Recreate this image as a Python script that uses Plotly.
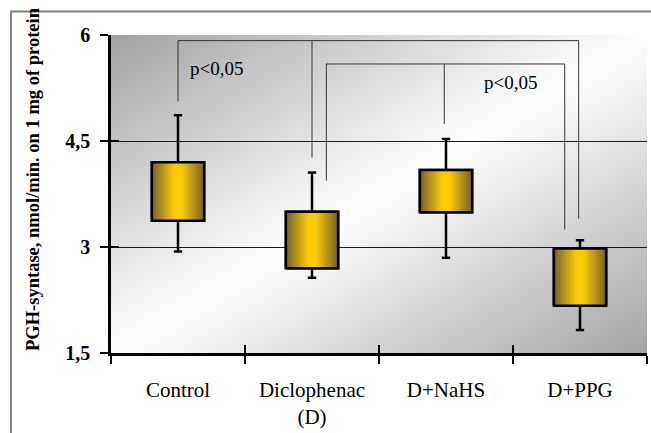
import base64
import plotly.graph_objects as go

# ---- data ----
categories = ["Control", "Diclophenac<br>(D)", "D+NaHS", "D+PPG"]
q1 = [3.37, 2.70, 3.49, 2.17]
q3 = [4.20, 3.50, 4.09, 2.98]
lower = [2.935, 2.565, 2.847, 1.824]
upper = [4.865, 4.056, 4.528, 3.097]

y_ticks = [1.5, 3, 4.5, 6]
y_ticktext = ["1,5", "3", "4,5", "6"]

# significance brackets: top level, leg positions (category index) and leg bottoms
bracket_tops = [5.92, 5.59]
bracket_leg_x = [[0.0, 1.0, 2.99], [1.107, 1.987, 2.886]]
bracket_leg_bottom = [[5.06, 4.27, 3.40], [3.94, 4.74, 3.246]]
sig_text = ["p<0,05", "p<0,05"]
sig_x = [0.29, 2.48]
sig_y = [5.53, 5.33]

BOX_W = 0.39
SERIF = "Liberation Serif, Times New Roman, serif"
gold_scale = [[0, "#76612a"], [0.42, "#f8c80a"], [0.5, "#ffcc00"], [0.58, "#f8c80a"], [1, "#76612a"]]

fig = go.Figure()

pos = list(range(len(categories)))

# whiskers with caps (box trace)
fig.add_trace(go.Box(
    x=pos, q1=q1, median=q1, q3=q3, lowerfence=lower, upperfence=upper,
    width=BOX_W, whiskerwidth=0.16,
    fillcolor="rgba(0,0,0,0)", line=dict(color="black", width=2.5),
    boxpoints=False, hoverinfo="skip", showlegend=False,
))

# gradient-filled box bodies
for i, (a, b) in enumerate(zip(q1, q3)):
    xs = [i - BOX_W / 2, i + BOX_W / 2, i + BOX_W / 2, i - BOX_W / 2, i - BOX_W / 2]
    ys = [a, a, b, b, a]
    fig.add_trace(go.Scatter(
        x=xs, y=ys, mode="lines", fill="toself",
        fillgradient=dict(type="horizontal", colorscale=gold_scale),
        line=dict(color="black", width=2.5),
        hoverinfo="skip", showlegend=False,
    ))

# brackets (drawn on the overlay axes, which share the same ranges)
for top, lx, lb in zip(bracket_tops, bracket_leg_x, bracket_leg_bottom):
    fig.add_trace(go.Scatter(
        x=[lx[0], lx[-1]], y=[top, top], mode="lines", xaxis="x2", yaxis="y2",
        line=dict(color="#333333", width=1), hoverinfo="skip", showlegend=False))
    for xx, bb in zip(lx, lb):
        fig.add_trace(go.Scatter(
            x=[xx, xx], y=[top, bb], mode="lines", xaxis="x2", yaxis="y2",
            line=dict(color="#333333", width=1), hoverinfo="skip", showlegend=False))

for t, xx, yy in zip(sig_text, sig_x, sig_y):
    fig.add_annotation(x=xx, y=yy, text=t, showarrow=False,
                       font=dict(family=SERIF, size=19, color="black"))

# background gradient
svg = ('<svg xmlns="http://www.w3.org/2000/svg" width="200" height="200" preserveAspectRatio="none">'
       '<defs><linearGradient id="g" x1="0" y1="0" x2="1" y2="1">'
       '<stop offset="0" stop-color="#a2a2a2"/><stop offset="0.5" stop-color="#ffffff"/>'
       '<stop offset="1" stop-color="#a4a4a4"/></linearGradient></defs>'
       '<rect width="200" height="200" fill="url(#g)"/></svg>')
src = "data:image/svg+xml;base64," + base64.b64encode(svg.encode()).decode()
fig.add_layout_image(dict(source=src, xref="paper", yref="paper", x=0, y=1,
                          sizex=1, sizey=1, sizing="stretch", layer="below",
                          xanchor="left", yanchor="top"))

# outer frame
fig.add_shape(type="rect", xref="paper", yref="paper",
              x0=-0.1866, y0=-1, x1=2, y1=1.074,
              line=dict(color="#7f7f7f", width=2), fillcolor="rgba(0,0,0,0)")

# y title
fig.add_annotation(xref="paper", yref="paper", x=-0.1455, y=0.0,
                   xanchor="center", yanchor="bottom",
                   text="<b>PGH-syntase, nmol/min. on 1 mg of protein</b>",
                   textangle=-90, showarrow=False,
                   font=dict(family=SERIF, size=18.5, color="black"))

fig.update_layout(
    width=651, height=433,
    margin=dict(l=111, r=4, t=35, b=74),
    paper_bgcolor="white", plot_bgcolor="rgba(0,0,0,0)",
    showlegend=False,
    xaxis=dict(
        range=[-0.5, 3.5], tickmode="array", tickvals=pos, ticktext=categories,
        ticks="", showgrid=False, zeroline=False,
        showline=True, linecolor="black", linewidth=2.5,
        tickfont=dict(family=SERIF, size=21, color="black"),
        ticklabelstandoff=16,
        minor=dict(tickvals=[-0.5, 0.5, 1.5, 2.5, 3.5], ticks="outside",
                   ticklen=8, tickwidth=2, tickcolor="black", showgrid=False),
    ),
    yaxis=dict(
        range=[1.5, 6], tickmode="array", tickvals=y_ticks, ticktext=y_ticktext,
        ticks="outside", ticklen=8, tickwidth=2, tickcolor="black",
        showgrid=True, gridcolor="#1a1a1a", gridwidth=1.2, zeroline=False,
        showline=True, linecolor="black", linewidth=2.5,
        ticklabelstandoff=6,
        tickfont=dict(family=SERIF, size=20, color="black", weight="bold"),
    ),
    xaxis2=dict(
        overlaying="x", anchor="y2", range=[-0.5, 3.5], tickmode="array",
        tickvals=[-0.5, 0.5, 1.5, 2.5, 3.5], ticks="inside", ticklen=8, tickwidth=2,
        tickcolor="black", showticklabels=False, showgrid=False, zeroline=False,
        showline=False,
    ),
    yaxis2=dict(
        overlaying="y", anchor="x2", range=[1.5, 6], tickmode="array",
        tickvals=y_ticks, ticks="inside", ticklen=8, tickwidth=2, tickcolor="black",
        showticklabels=False, showgrid=False, zeroline=False, showline=False,
    ),
)

fig.write_html("out.html", config={"displayModeBar": False},
               post_script="document.body.style.margin='0';")
